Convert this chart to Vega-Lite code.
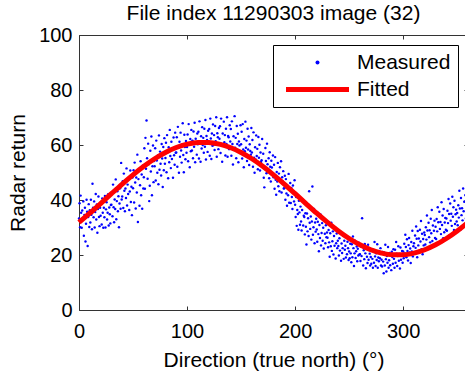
{
"$schema": "https://vega.github.io/schema/vega-lite/v6.json",
"width": 389, "height": 275,
"autosize": {"type": "none"},
"padding": {"left": 79, "top": 35, "right": 0, "bottom": 63},
"background": "#ffffff",
"config": {
  "view": {"stroke": null},
  "font": "Liberation Sans",
  "axis": {"labelFont": "Liberation Sans", "labelFontSize": 20, "labelColor": "#000", "titleFont": "Liberation Sans", "titleFontSize": 21, "titleFontWeight": "normal", "titleColor": "#000", "domainColor": "#333", "tickColor": "#333", "tickSize": -4, "grid": false, "labelFlush": false, "labelOverlap": false},
  "legend": {"orient": "none", "legendX": 194, "legendY": 10, "padding": 7, "strokeColor": "#000", "fillColor": "#fff", "labelFont": "Liberation Sans", "labelFontSize": 21, "labelColor": "#000", "symbolSize": 16, "symbolStrokeWidth": 0, "symbolOffset": 27, "labelOffset": 29, "rowPadding": 5, "symbolOpacity": 1}
},
"title": {"text": "File index 11290303 image (32)", "fontSize": 21, "fontWeight": "normal", "font": "Liberation Sans", "color": "#000", "offset": 1, "frame": "group", "anchor": "middle"},
"datasets": {
"fit": [{"a":0,"f":31.84},{"a":10,"f":35.19},{"a":20,"f":38.71},{"a":30,"f":42.29},{"a":40,"f":45.81},{"a":50,"f":49.16},{"a":60,"f":52.26},{"a":70,"f":55.0},{"a":80,"f":57.29},{"a":90,"f":59.08},{"a":100,"f":60.3},{"a":110,"f":60.92},{"a":120,"f":60.92},{"a":130,"f":60.3},{"a":140,"f":59.08},{"a":150,"f":57.29},{"a":160,"f":55.0},{"a":170,"f":52.26},{"a":180,"f":49.16},{"a":190,"f":45.81},{"a":200,"f":42.29},{"a":210,"f":38.71},{"a":220,"f":35.19},{"a":230,"f":31.84},{"a":240,"f":28.74},{"a":250,"f":26.0},{"a":260,"f":23.71},{"a":270,"f":21.92},{"a":280,"f":20.7},{"a":290,"f":20.08},{"a":300,"f":20.08},{"a":310,"f":20.7},{"a":320,"f":21.92},{"a":330,"f":23.71},{"a":340,"f":26.0},{"a":350,"f":28.74},{"a":360,"f":31.84}],
"pts": [
{"a":0,"r":33.3},{"a":0.5,"r":38.8},{"a":1,"r":30.1},{"a":1.5,"r":41.6},{"a":2,"r":35.4},{"a":2.5,"r":29.9},{"a":3,"r":36.2},{"a":3.5,"r":32.7},{"a":4,"r":39.5},{"a":4.5,"r":27},{"a":5,"r":34.6},{"a":5.5,"r":37.2},{"a":6,"r":24.9},{"a":6.5,"r":31.4},{"a":7,"r":40.1},{"a":7.5,"r":35.7},{"a":8,"r":23.3},{"a":8.5,"r":33.8},{"a":9,"r":38.5},{"a":9.5,"r":30.2},
{"a":10,"r":36.3},{"a":10.5,"r":31.8},{"a":11,"r":40.1},{"a":11.5,"r":34.6},{"a":12,"r":29.4},{"a":12.5,"r":45.9},{"a":13,"r":37.2},{"a":13.5,"r":33.7},{"a":14,"r":39.5},{"a":14.5,"r":30},{"a":15,"r":35.6},{"a":15.5,"r":42.2},{"a":16,"r":32.9},{"a":16.5,"r":38.4},{"a":17,"r":28.1},{"a":17.5,"r":36.7},{"a":18,"r":41.3},{"a":18.5,"r":33.8},{"a":19,"r":30.5},{"a":19.5,"r":37.2},
{"a":20,"r":34.3},{"a":20.5,"r":38.8},{"a":21,"r":31.1},{"a":21.5,"r":40.6},{"a":22,"r":35.4},{"a":22.5,"r":29.9},{"a":23,"r":37.2},{"a":23.5,"r":33.7},{"a":24,"r":41.5},{"a":24.5,"r":30},{"a":25,"r":36.6},{"a":25.5,"r":39.2},{"a":26,"r":32.9},{"a":26.5,"r":35.4},{"a":27,"r":42.1},{"a":27.5,"r":30.7},{"a":28,"r":37.3},{"a":28.5,"r":34.8},{"a":29,"r":31.5},{"a":29.5,"r":38.2},
{"a":30,"r":38.3},{"a":30.5,"r":42.8},{"a":31,"r":34.1},{"a":31.5,"r":45.6},{"a":32,"r":37.4},{"a":32.5,"r":31.9},{"a":33,"r":40.2},{"a":33.5,"r":36.7},{"a":34,"r":47.5},{"a":34.5,"r":33},{"a":35,"r":39.6},{"a":35.5,"r":43.2},{"a":36,"r":35.9},{"a":36.5,"r":41.4},{"a":37,"r":30.1},{"a":37.5,"r":38.7},{"a":38,"r":44.3},{"a":38.5,"r":36.8},{"a":39,"r":53.5},{"a":39.5,"r":40.2},
{"a":40,"r":41.3},{"a":40.5,"r":46.8},{"a":41,"r":37.1},{"a":41.5,"r":49.6},{"a":42,"r":43.4},{"a":42.5,"r":35.9},{"a":43,"r":44.2},{"a":43.5,"r":40.7},{"a":44,"r":51.5},{"a":44.5,"r":38},{"a":45,"r":45.6},{"a":45.5,"r":42.2},{"a":46,"r":47.9},{"a":46.5,"r":36.4},{"a":47,"r":43.1},{"a":47.5,"r":50.7},{"a":48,"r":39.3},{"a":48.5,"r":44.8},{"a":49,"r":34.5},{"a":49.5,"r":48.2},
{"a":50,"r":44.3},{"a":50.5,"r":50.8},{"a":51,"r":39.1},{"a":51.5,"r":53.6},{"a":52,"r":46.4},{"a":52.5,"r":36.9},{"a":53,"r":48.2},{"a":53.5,"r":42.7},{"a":54,"r":56.5},{"a":54.5,"r":32},{"a":55,"r":47.6},{"a":55.5,"r":51.2},{"a":56,"r":37.9},{"a":56.5,"r":45.4},{"a":57,"r":54.1},{"a":57.5,"r":41.7},{"a":58,"r":49.3},{"a":58.5,"r":36.8},{"a":59,"r":52.5},{"a":59.5,"r":44.2},
{"a":60,"r":48.3},{"a":60.5,"r":58.8},{"a":61,"r":44.1},{"a":61.5,"r":62.6},{"a":62,"r":51.4},{"a":62.5,"r":68.9},{"a":63,"r":55.2},{"a":63.5,"r":47.7},{"a":64,"r":60.5},{"a":64.5,"r":53},{"a":65,"r":39.6},{"a":65.5,"r":45.2},{"a":66,"r":57.9},{"a":66.5,"r":50.4},{"a":67,"r":63.1},{"a":67.5,"r":41.7},{"a":68,"r":52.3},{"a":68.5,"r":59.8},{"a":69,"r":46.5},{"a":69.5,"r":54.2},
{"a":70,"r":52.3},{"a":70.5,"r":58.8},{"a":71,"r":47.1},{"a":71.5,"r":61.6},{"a":72,"r":54.4},{"a":72.5,"r":49.9},{"a":73,"r":56.2},{"a":73.5,"r":45.7},{"a":74,"r":63.5},{"a":74.5,"r":51},{"a":75,"r":57.6},{"a":75.5,"r":53.2},{"a":76,"r":48.9},{"a":76.5,"r":60.4},{"a":77,"r":55.1},{"a":77.5,"r":44.7},{"a":78,"r":59.3},{"a":78.5,"r":50.8},{"a":79,"r":62.5},{"a":79.5,"r":53.2},
{"a":80,"r":55.3},{"a":80.5,"r":60.8},{"a":81,"r":50.1},{"a":81.5,"r":63.6},{"a":82,"r":57.4},{"a":82.5,"r":47.9},{"a":83,"r":59.2},{"a":83.5,"r":53.7},{"a":84,"r":65.5},{"a":84.5,"r":56},{"a":85,"r":51.6},{"a":85.5,"r":61.2},{"a":86,"r":54.9},{"a":86.5,"r":58.4},{"a":87,"r":48.1},{"a":87.5,"r":62.7},{"a":88,"r":56.3},{"a":88.5,"r":52.8},{"a":89,"r":64.5},{"a":89.5,"r":57.2},
{"a":90,"r":57.3},{"a":90.5,"r":62.8},{"a":91,"r":52.1},{"a":91.5,"r":66.6},{"a":92,"r":59.4},{"a":92.5,"r":49.9},{"a":93,"r":61.2},{"a":93.5,"r":55.7},{"a":94,"r":64.5},{"a":94.5,"r":58},{"a":95,"r":53.6},{"a":95.5,"r":60.2},{"a":96,"r":67.9},{"a":96.5,"r":56.4},{"a":97,"r":50.1},{"a":97.5,"r":63.7},{"a":98,"r":59.3},{"a":98.5,"r":54.8},{"a":99,"r":61.5},{"a":99.5,"r":57.2},
{"a":100,"r":59.3},{"a":100.5,"r":63.8},{"a":101,"r":54.1},{"a":101.5,"r":67.6},{"a":102,"r":60.4},{"a":102.5,"r":51.9},{"a":103,"r":62.2},{"a":103.5,"r":57.7},{"a":104,"r":65.5},{"a":104.5,"r":58},{"a":105,"r":61.6},{"a":105.5,"r":55.2},{"a":106,"r":64.9},{"a":106.5,"r":59.4},{"a":107,"r":68.1},{"a":107.5,"r":53.7},{"a":108,"r":62.3},{"a":108.5,"r":60.8},{"a":109,"r":56.5},{"a":109.5,"r":64.2},
{"a":110,"r":60.3},{"a":110.5,"r":64.8},{"a":111,"r":55.1},{"a":111.5,"r":68.6},{"a":112,"r":61.4},{"a":112.5,"r":53.9},{"a":113,"r":63.2},{"a":113.5,"r":58.7},{"a":114,"r":66.5},{"a":114.5,"r":60},{"a":115,"r":62.6},{"a":115.5,"r":57.2},{"a":116,"r":65.9},{"a":116.5,"r":59.4},{"a":117,"r":69.1},{"a":117.5,"r":54.7},{"a":118,"r":63.3},{"a":118.5,"r":61.8},{"a":119,"r":57.5},{"a":119.5,"r":65.2},
{"a":120,"r":61.3},{"a":120.5,"r":65.8},{"a":121,"r":56.1},{"a":121.5,"r":69.6},{"a":122,"r":62.4},{"a":122.5,"r":54.9},{"a":123,"r":64.2},{"a":123.5,"r":59.7},{"a":124,"r":67.5},{"a":124.5,"r":60},{"a":125,"r":63.6},{"a":125.5,"r":58.2},{"a":126,"r":66.9},{"a":126.5,"r":61.4},{"a":127,"r":70.1},{"a":127.5,"r":55.7},{"a":128,"r":64.3},{"a":128.5,"r":62.8},{"a":129,"r":58.5},{"a":129.5,"r":66.2},
{"a":130,"r":62.3},{"a":130.5,"r":66.8},{"a":131,"r":57.1},{"a":131.5,"r":69.6},{"a":132,"r":60.4},{"a":132.5,"r":53.9},{"a":133,"r":64.2},{"a":133.5,"r":59.7},{"a":134,"r":68.5},{"a":134.5,"r":61},{"a":135,"r":63.6},{"a":135.5,"r":56.2},{"a":136,"r":65.9},{"a":136.5,"r":60.4},{"a":137,"r":70.1},{"a":137.5,"r":55.7},{"a":138,"r":63.3},{"a":138.5,"r":62.8},{"a":139,"r":58.5},{"a":139.5,"r":67.2},
{"a":140,"r":61.3},{"a":140.5,"r":65.8},{"a":141,"r":56.1},{"a":141.5,"r":68.6},{"a":142,"r":60.4},{"a":142.5,"r":52.9},{"a":143,"r":63.2},{"a":143.5,"r":58.7},{"a":144,"r":70.5},{"a":144.5,"r":59},{"a":145,"r":62.6},{"a":145.5,"r":55.2},{"a":146,"r":66.9},{"a":146.5,"r":60.4},{"a":147,"r":64.1},{"a":147.5,"r":53.7},{"a":148,"r":61.3},{"a":148.5,"r":59.8},{"a":149,"r":57.5},{"a":149.5,"r":67.2},
{"a":150,"r":60.3},{"a":150.5,"r":64.8},{"a":151,"r":55.1},{"a":151.5,"r":67.6},{"a":152,"r":58.4},{"a":152.5,"r":51.9},{"a":153,"r":62.2},{"a":153.5,"r":57.7},{"a":154,"r":68.5},{"a":154.5,"r":59},{"a":155,"r":61.6},{"a":155.5,"r":54.2},{"a":156,"r":65.9},{"a":156.5,"r":58.4},{"a":157,"r":63.1},{"a":157.5,"r":52.7},{"a":158,"r":60.3},{"a":158.5,"r":57.8},{"a":159,"r":56.5},{"a":159.5,"r":66.2},
{"a":160,"r":57.3},{"a":160.5,"r":61.8},{"a":161,"r":52.1},{"a":161.5,"r":64.6},{"a":162,"r":55.4},{"a":162.5,"r":49.9},{"a":163,"r":59.2},{"a":163.5,"r":54.7},{"a":164,"r":63.5},{"a":164.5,"r":56},{"a":165,"r":58.6},{"a":165.5,"r":51.2},{"a":166,"r":62.9},{"a":166.5,"r":55.4},{"a":167,"r":60.1},{"a":167.5,"r":50.7},{"a":168,"r":57.3},{"a":168.5,"r":53.8},{"a":169,"r":54.5},{"a":169.5,"r":62.2},
{"a":170,"r":52.3},{"a":170.5,"r":56.8},{"a":171,"r":48.1},{"a":171.5,"r":44.6},{"a":172,"r":51.4},{"a":172.5,"r":58.9},{"a":173,"r":54.2},{"a":173.5,"r":49.7},{"a":174,"r":60.5},{"a":174.5,"r":53},{"a":175,"r":50.6},{"a":175.5,"r":55.2},{"a":176,"r":47.9},{"a":176.5,"r":57.4},{"a":177,"r":52.1},{"a":177.5,"r":46.7},{"a":178,"r":54.3},{"a":178.5,"r":51.8},{"a":179,"r":49.5},{"a":179.5,"r":56.2},
{"a":180,"r":48.3},{"a":180.5,"r":52.8},{"a":181,"r":44.1},{"a":181.5,"r":55.6},{"a":182,"r":47.4},{"a":182.5,"r":41.9},{"a":183,"r":50.2},{"a":183.5,"r":46.7},{"a":184,"r":53.5},{"a":184.5,"r":45},{"a":185,"r":49.6},{"a":185.5,"r":43.2},{"a":186,"r":51.9},{"a":186.5,"r":47.4},{"a":187,"r":54.1},{"a":187.5,"r":42.7},{"a":188,"r":48.3},{"a":188.5,"r":46.8},{"a":189,"r":50.5},{"a":189.5,"r":44.2},
{"a":190,"r":44.3},{"a":190.5,"r":48.8},{"a":191,"r":40.1},{"a":191.5,"r":47.6},{"a":192,"r":42.4},{"a":192.5,"r":37.9},{"a":193,"r":45.2},{"a":193.5,"r":41.7},{"a":194,"r":49.5},{"a":194.5,"r":39},{"a":195,"r":43.6},{"a":195.5,"r":46.2},{"a":196,"r":38.9},{"a":196.5,"r":44.4},{"a":197,"r":41.1},{"a":197.5,"r":36.7},{"a":198,"r":45.3},{"a":198.5,"r":42.8},{"a":199,"r":39.5},{"a":199.5,"r":47.2},
{"a":200,"r":38.3},{"a":200.5,"r":33.8},{"a":201,"r":41.1},{"a":201.5,"r":30.6},{"a":202,"r":36.4},{"a":202.5,"r":34.9},{"a":203,"r":29.2},{"a":203.5,"r":39.7},{"a":204,"r":35.5},{"a":204.5,"r":31},{"a":205,"r":37.6},{"a":205.5,"r":32.2},{"a":206,"r":28.9},{"a":206.5,"r":36.4},{"a":207,"r":40.1},{"a":207.5,"r":30.7},{"a":208,"r":34.3},{"a":208.5,"r":33.8},{"a":209,"r":27.5},{"a":209.5,"r":35.2},
{"a":210,"r":30.3},{"a":210.5,"r":23.8},{"a":211,"r":35.1},{"a":211.5,"r":28.6},{"a":212,"r":33.4},{"a":212.5,"r":26.9},{"a":213,"r":43.2},{"a":213.5,"r":31.7},{"a":214,"r":29.5},{"a":214.5,"r":34},{"a":215,"r":25.6},{"a":215.5,"r":32.2},{"a":216,"r":44.9},{"a":216.5,"r":27.4},{"a":217,"r":30.1},{"a":217.5,"r":36.7},{"a":218,"r":24.3},{"a":218.5,"r":31.8},{"a":219,"r":28.5},{"a":219.5,"r":33.2},
{"a":220,"r":29.3},{"a":220.5,"r":24.8},{"a":221,"r":32.1},{"a":221.5,"r":27.6},{"a":222,"r":21.4},{"a":222.5,"r":30.9},{"a":223,"r":26.2},{"a":223.5,"r":34.7},{"a":224,"r":23.5},{"a":224.5,"r":28},{"a":225,"r":31.6},{"a":225.5,"r":25.2},{"a":226,"r":29.9},{"a":226.5,"r":22.4},{"a":227,"r":33.1},{"a":227.5,"r":27.7},{"a":228,"r":24.3},{"a":228.5,"r":30.8},{"a":229,"r":26.5},{"a":229.5,"r":28.2},
{"a":230,"r":26.3},{"a":230.5,"r":22.8},{"a":231,"r":29.1},{"a":231.5,"r":24.6},{"a":232,"r":19.4},{"a":232.5,"r":27.9},{"a":233,"r":23.2},{"a":233.5,"r":31.7},{"a":234,"r":21.5},{"a":234.5,"r":25},{"a":235,"r":28.6},{"a":235.5,"r":20.2},{"a":236,"r":26.9},{"a":236.5,"r":23.4},{"a":237,"r":30.1},{"a":237.5,"r":18.7},{"a":238,"r":24.3},{"a":238.5,"r":27.8},{"a":239,"r":22.5},{"a":239.5,"r":25.2},
{"a":240,"r":23.3},{"a":240.5,"r":19.8},{"a":241,"r":26.1},{"a":241.5,"r":21.6},{"a":242,"r":28.4},{"a":242.5,"r":17.9},{"a":243,"r":24.2},{"a":243.5,"r":20.7},{"a":244,"r":22.5},{"a":244.5,"r":27},{"a":245,"r":18.6},{"a":245.5,"r":25.2},{"a":246,"r":21.9},{"a":246.5,"r":23.4},{"a":247,"r":19.1},{"a":247.5,"r":26.7},{"a":248,"r":20.3},{"a":248.5,"r":24.8},{"a":249,"r":22.5},{"a":249.5,"r":18.2},
{"a":250,"r":21.3},{"a":250.5,"r":18.8},{"a":251,"r":24.1},{"a":251.5,"r":20.6},{"a":252,"r":17.4},{"a":252.5,"r":23.9},{"a":253,"r":19.2},{"a":253.5,"r":26.7},{"a":254,"r":22.5},{"a":254.5,"r":16},{"a":255,"r":20.6},{"a":255.5,"r":25.2},{"a":256,"r":18.9},{"a":256.5,"r":21.4},{"a":257,"r":23.1},{"a":257.5,"r":17.7},{"a":258,"r":22.3},{"a":258.5,"r":19.8},{"a":259,"r":24.5},{"a":259.5,"r":20.2},
{"a":260,"r":20.3},{"a":260.5,"r":17.8},{"a":261,"r":23.1},{"a":261.5,"r":19.6},{"a":262,"r":33.4},{"a":262.5,"r":22.9},{"a":263,"r":16.2},{"a":263.5,"r":21.7},{"a":264,"r":18.5},{"a":264.5,"r":24},{"a":265,"r":20.6},{"a":265.5,"r":15.2},{"a":266,"r":22.9},{"a":266.5,"r":19.4},{"a":267,"r":17.1},{"a":267.5,"r":23.7},{"a":268,"r":18.3},{"a":268.5,"r":21.8},{"a":269,"r":20.5},{"a":269.5,"r":16.2},
{"a":270,"r":19.3},{"a":270.5,"r":16.8},{"a":271,"r":22.1},{"a":271.5,"r":18.6},{"a":272,"r":15.4},{"a":272.5,"r":21.9},{"a":273,"r":17.2},{"a":273.5,"r":24.7},{"a":274,"r":19.5},{"a":274.5,"r":16},{"a":275,"r":20.6},{"a":275.5,"r":18.2},{"a":276,"r":23.9},{"a":276.5,"r":15.4},{"a":277,"r":19.1},{"a":277.5,"r":17.7},{"a":278,"r":21.3},{"a":278.5,"r":18.8},{"a":279,"r":22.5},{"a":279.5,"r":16.2},
{"a":280,"r":18.3},{"a":280.5,"r":15.8},{"a":281,"r":21.1},{"a":281.5,"r":17.6},{"a":282,"r":13.4},{"a":282.5,"r":20.9},{"a":283,"r":16.2},{"a":283.5,"r":23.7},{"a":284,"r":18.5},{"a":284.5,"r":14},{"a":285,"r":19.6},{"a":285.5,"r":17.2},{"a":286,"r":22.9},{"a":286.5,"r":15.4},{"a":287,"r":18.1},{"a":287.5,"r":20.7},{"a":288,"r":16.3},{"a":288.5,"r":19.8},{"a":289,"r":14.5},{"a":289.5,"r":21.2},
{"a":290,"r":19.3},{"a":290.5,"r":16.8},{"a":291,"r":22.1},{"a":291.5,"r":18.6},{"a":292,"r":15.4},{"a":292.5,"r":21.9},{"a":293,"r":17.2},{"a":293.5,"r":24.7},{"a":294,"r":20.5},{"a":294.5,"r":16},{"a":295,"r":19.6},{"a":295.5,"r":23.2},{"a":296,"r":17.9},{"a":296.5,"r":20.4},{"a":297,"r":15.1},{"a":297.5,"r":22.7},{"a":298,"r":18.3},{"a":298.5,"r":19.8},{"a":299,"r":21.5},{"a":299.5,"r":17.2},
{"a":300,"r":21.3},{"a":300.5,"r":18.8},{"a":301,"r":24.1},{"a":301.5,"r":20.6},{"a":302,"r":27.4},{"a":302.5,"r":22.9},{"a":303,"r":19.2},{"a":303.5,"r":25.7},{"a":304,"r":21.5},{"a":304.5,"r":18},{"a":305,"r":23.6},{"a":305.5,"r":26.2},{"a":306,"r":20.9},{"a":306.5,"r":22.4},{"a":307,"r":17.1},{"a":307.5,"r":24.7},{"a":308,"r":21.3},{"a":308.5,"r":28.8},{"a":309,"r":19.5},{"a":309.5,"r":23.2},
{"a":310,"r":24.3},{"a":310.5,"r":20.8},{"a":311,"r":27.1},{"a":311.5,"r":22.6},{"a":312,"r":30.4},{"a":312.5,"r":25.9},{"a":313,"r":19.2},{"a":313.5,"r":28.7},{"a":314,"r":23.5},{"a":314.5,"r":26},{"a":315,"r":21.6},{"a":315.5,"r":29.2},{"a":316,"r":24.9},{"a":316.5,"r":32.4},{"a":317,"r":22.1},{"a":317.5,"r":27.7},{"a":318,"r":20.3},{"a":318.5,"r":25.8},{"a":319,"r":23.5},{"a":319.5,"r":28.2},
{"a":320,"r":27.3},{"a":320.5,"r":23.8},{"a":321,"r":30.1},{"a":321.5,"r":25.6},{"a":322,"r":34.4},{"a":322.5,"r":28.9},{"a":323,"r":22.2},{"a":323.5,"r":31.7},{"a":324,"r":26.5},{"a":324.5,"r":29},{"a":325,"r":24.6},{"a":325.5,"r":33.2},{"a":326,"r":27.9},{"a":326.5,"r":36.4},{"a":327,"r":25.1},{"a":327.5,"r":30.7},{"a":328,"r":23.3},{"a":328.5,"r":28.8},{"a":329,"r":32.5},{"a":329.5,"r":26.2},
{"a":330,"r":30.3},{"a":330.5,"r":25.8},{"a":331,"r":33.1},{"a":331.5,"r":28.6},{"a":332,"r":37.4},{"a":332.5,"r":31.9},{"a":333,"r":24.2},{"a":333.5,"r":35.7},{"a":334,"r":29.5},{"a":334.5,"r":32},{"a":335,"r":27.6},{"a":335.5,"r":39.2},{"a":336,"r":30.9},{"a":336.5,"r":34.4},{"a":337,"r":26.1},{"a":337.5,"r":36.7},{"a":338,"r":28.3},{"a":338.5,"r":31.8},{"a":339,"r":33.5},{"a":339.5,"r":29.2},
{"a":340,"r":33.3},{"a":340.5,"r":28.8},{"a":341,"r":36.1},{"a":341.5,"r":31.6},{"a":342,"r":40.4},{"a":342.5,"r":34.9},{"a":343,"r":27.2},{"a":343.5,"r":38.7},{"a":344,"r":32.5},{"a":344.5,"r":35},{"a":345,"r":30.6},{"a":345.5,"r":41.2},{"a":346,"r":33.9},{"a":346.5,"r":37.4},{"a":347,"r":29.1},{"a":347.5,"r":39.7},{"a":348,"r":31.3},{"a":348.5,"r":34.8},{"a":349,"r":36.5},{"a":349.5,"r":32.2},
{"a":350,"r":35.3},{"a":350.5,"r":30.8},{"a":351,"r":38.1},{"a":351.5,"r":33.6},{"a":352,"r":43.4},{"a":352.5,"r":36.9},{"a":353,"r":29.2},{"a":353.5,"r":40.7},{"a":354,"r":34.5},{"a":354.5,"r":37},{"a":355,"r":32.6},{"a":355.5,"r":44.2},{"a":356,"r":35.9},{"a":356.5,"r":39.4},{"a":357,"r":31.1},{"a":357.5,"r":41.7},{"a":358,"r":33.3},{"a":358.5,"r":36.8},{"a":359,"r":38.5},{"a":359.5,"r":34.2}
]
},
"layer": [
{
"data": {"name": "pts"},
"mark": {"type": "point", "filled": true, "size": 6, "opacity": 1},
"encoding": {
 "x": {"field": "a", "type": "quantitative", "scale": {"domain": [0, 360], "nice": false, "zero": false},
  "axis": {"orient": "bottom", "values": [0, 100, 200, 300], "title": "Direction (true north) (°)", "labelPadding": 15, "titlePadding": 8}},
 "y": {"field": "r", "type": "quantitative", "scale": {"domain": [0, 100], "nice": false, "zero": false},
  "axis": {"orient": "left", "values": [0, 20, 40, 60, 80, 100], "title": "Radar return", "labelPadding": 11, "titlePadding": 10}},
 "color": {"datum": "Measured", "type": "nominal",
  "scale": {"domain": ["Measured", "Fitted"], "range": ["#0000ff", "#ff0000"]},
  "legend": {"title": null}},
 "shape": {"datum": "Measured", "type": "nominal",
  "scale": {"domain": ["Measured", "Fitted"], "range": ["circle", "M-15.75,-1.25H15.75V1.25H-15.75Z"]},
  "legend": {"title": null}}
}
},
{
"data": {"name": "fit"},
"mark": {"type": "line", "strokeWidth": 5, "interpolate": "monotone", "color": "#ff0000"},
"encoding": {
 "x": {"field": "a", "type": "quantitative", "axis": {"orient": "top", "values": [0, 100, 200, 300], "labels": false, "title": null}},
 "y": {"field": "f", "type": "quantitative", "axis": {"orient": "right", "values": [0, 20, 40, 60, 80, 100], "labels": false, "title": null}}
}
}
],
"resolve": {"axis": {"x": "independent", "y": "independent"}}
}
